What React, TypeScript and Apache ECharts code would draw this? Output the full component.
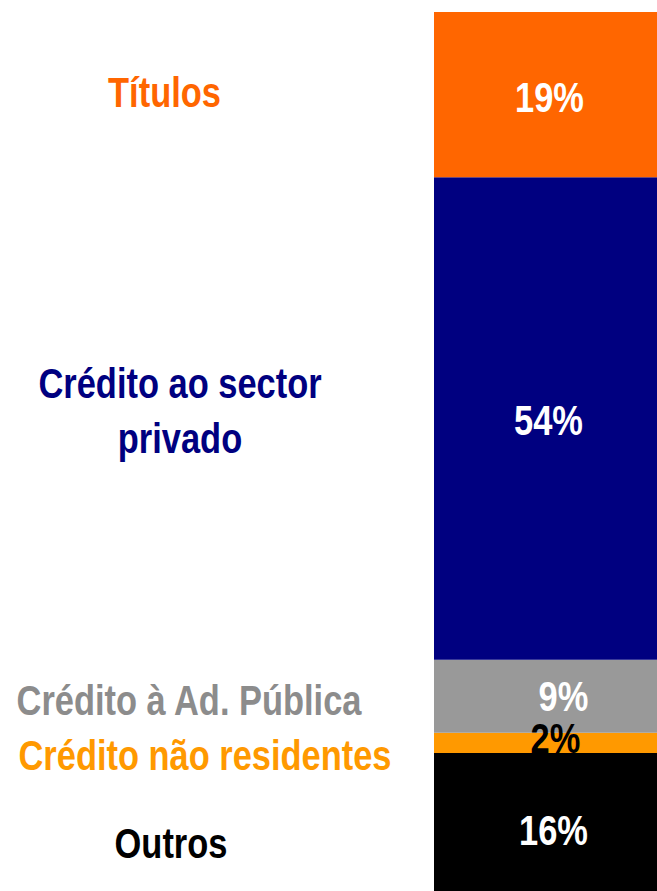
import React, { useEffect, useRef } from 'react';
import * as echarts from 'echarts';

// Data (bottom to top of the stacked bar)
const categories = ['Outros', 'Crédito não residentes', 'Crédito à Ad. Pública', 'Crédito ao sector privado', 'Títulos'];
const shares = [15.7, 2.3, 8.3, 54.9, 18.8];
const shareLabels = ['16%', '2%', '9%', '54%', '19%'];
const nameTexts = ['Outros', 'Crédito não residentes', 'Crédito à Ad. Pública', 'Crédito ao sector\nprivado', 'Títulos'];

// Styles
const segmentColors = ['#000000', '#FF9900', '#999999', '#000080', '#FF6600'];
const shareLabelColors = ['#FFFFFF', '#000000', '#FFFFFF', '#FFFFFF', '#FFFFFF'];
const nameColors = ['#000000', '#FF9900', '#8C8C8C', '#000080', '#FF6600'];
const FONT = "bold 42px 'Liberation Sans', Arial, sans-serif";
const NARROW = 0.82; // horizontal compression of the narrow bold typeface

// Layout tweaks (pixel offsets of the texts)
const shareLabelOffsets: [number, number][] = [[8, 8], [10, -5], [18, 0], [3, 2], [4, 3]];
const nameCenterX = [171, 205, 189, 180, 164.5];
const nameOffsetY = [21, 12, 3.5, -8, -2];

export default function App() {
  const ref = useRef<HTMLDivElement>(null);

  useEffect(() => {
    if (!ref.current) return;
    const chart = echarts.init(ref.current, undefined, { renderer: 'svg' });
    const total = shares.reduce((a, b) => a + b, 0);

    const series = shares.map((v, i) => ({
      name: categories[i],
      type: 'bar' as const,
      stack: 'total',
      barWidth: '100%',
      data: [v],
      itemStyle: { color: segmentColors[i] },
      label: { show: false },
    }));

    chart.setOption({
      animation: false,
      grid: { left: 434, right: 0, top: 12, bottom: 0 },
      xAxis: { type: 'category', data: ['Activo'], show: false, boundaryGap: true },
      yAxis: { type: 'value', min: 0, max: total, show: false },
      series,
    });

    const graphics: any[] = [];
    let cum = 0;
    shares.forEach((v, i) => {
      const mid = cum + v / 2;
      cum += v;
      const [px, py] = chart.convertToPixel({ gridIndex: 0 }, [0, mid]) as number[];
      // percentage inside the segment
      graphics.push({
        type: 'text',
        x: px + shareLabelOffsets[i][0],
        y: py + shareLabelOffsets[i][1],
        scaleX: NARROW,
        style: {
          text: shareLabels[i],
          fill: shareLabelColors[i],
          font: FONT,
          align: 'center',
          verticalAlign: 'middle',
        },
        z: 10,
      });
      // category name on the left
      graphics.push({
        type: 'text',
        x: nameCenterX[i],
        y: py + nameOffsetY[i],
        scaleX: NARROW,
        style: {
          text: nameTexts[i],
          fill: nameColors[i],
          font: FONT,
          align: 'center',
          verticalAlign: 'middle',
          lineHeight: 55,
        },
        z: 10,
      });
    });
    chart.setOption({ graphic: graphics });

    return () => chart.dispose();
  }, []);

  return (
    <div
      ref={ref}
      style={{ position: 'fixed', left: 0, top: 0, width: 657, height: 891, background: '#ffffff' }}
    />
  );
}
